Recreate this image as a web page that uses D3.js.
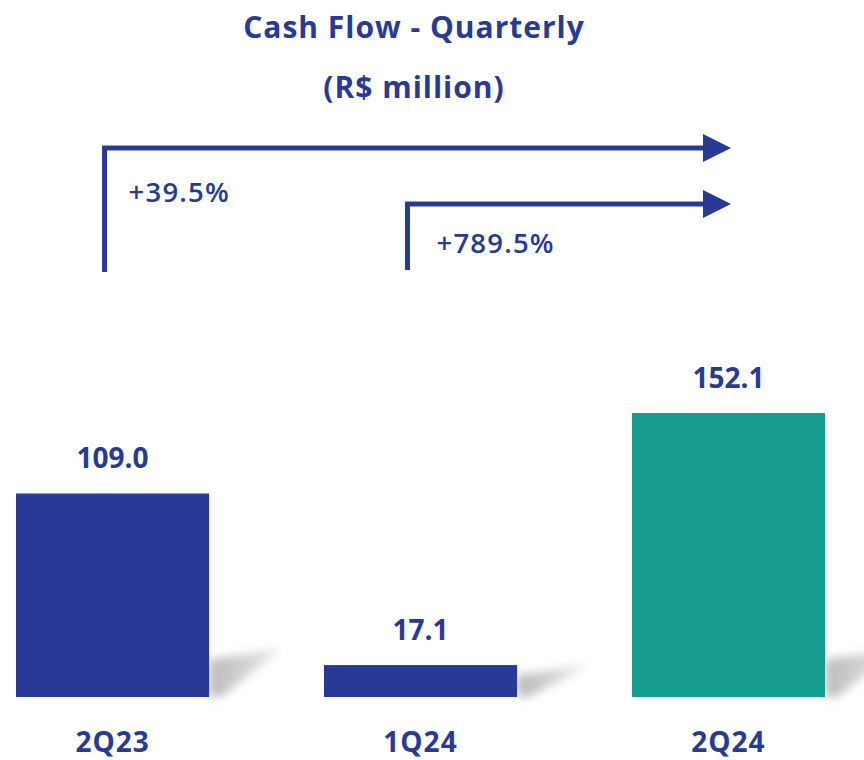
<!DOCTYPE html>
<html><head><meta charset="utf-8">
<script src="https://cdn.jsdelivr.net/npm/d3@7"></script>
<style>body{margin:0;background:#fff}svg{display:block}</style>
</head><body>
<script>
const categories = ["2Q23", "1Q24", "2Q24"];
const values = [109.0, 17.1, 152.1];
const valueLabels = ["109.0", "17.1", "152.1"];
const colors = ["#283A96", "#283A96", "#179E91"];
const growthLabels = ["+39.5%", "+789.5%"];
const growthFrom = ["2Q23", "1Q24"];
const titleLines = ["Cash Flow - Quarterly", "(R$ million)"];

const W = 864, H = 760;
const blue = "#283A96";
const font = "'Open Sans', 'Noto Sans', sans-serif";
const svg = d3.select("body").append("svg").attr("width", W).attr("height", H);

const x = d3.scaleBand().domain(categories).range([16, 825]).paddingInner(0.373).paddingOuter(0);
const y = d3.scaleLinear().domain([0, 152.1]).range([697, 413]);

const defs = svg.append("defs");
const f = defs.append("filter").attr("id", "blur").attr("x", "-50%").attr("y", "-50%").attr("width", "200%").attr("height", "200%");
f.append("feGaussianBlur").attr("stdDeviation", 5);
const g = defs.append("linearGradient").attr("id", "sh").attr("x1", 0).attr("x2", 1).attr("y1", 0).attr("y2", 0);
g.append("stop").attr("offset", "0%").attr("stop-color", "#b0b0b0");
g.append("stop").attr("offset", "100%").attr("stop-color", "#e4e4e4");

// shadows
const data = categories.map((c, i) => ({c, v: values[i], lab: valueLabels[i], col: colors[i]}));
svg.append("g").selectAll("path").data(data).join("path")
  .attr("d", d => {
    const x0 = x(d.c) + x.bandwidth();
    const top = Math.max(y(d.v), 697 - 48);
    return `M${x0},697 L${x0},${top + 10} L${x0 + 72},${top} L${x0 + 12},697 Z`;
  })
  .attr("fill", "url(#sh)").attr("filter", "url(#blur)").attr("opacity", 0.85);

// bars
svg.append("g").selectAll("rect").data(data).join("rect")
  .attr("x", d => x(d.c)).attr("width", x.bandwidth())
  .attr("y", d => y(d.v)).attr("height", d => y(0) - y(d.v))
  .attr("fill", d => d.col);

// value labels
svg.append("g").selectAll("text").data(data).join("text")
  .attr("x", d => x(d.c) + x.bandwidth() / 2).attr("y", d => y(d.v) - 25)
  .attr("text-anchor", "middle").attr("font-family", font).attr("font-weight", 700)
  .attr("font-size", 28).attr("fill", blue).text(d => d.lab);

// category labels
svg.append("g").selectAll("text").data(categories).join("text")
  .attr("x", d => x(d) + x.bandwidth() / 2).attr("y", 752)
  .attr("text-anchor", "middle").attr("font-family", font).attr("font-weight", 700)
  .attr("font-size", 28).attr("letter-spacing", 1).attr("fill", blue).text(d => d);

// title
svg.append("g").selectAll("text").data(titleLines).join("text")
  .attr("x", 414).attr("y", (d, i) => 38 + i * 60)
  .attr("text-anchor", "middle").attr("font-family", font).attr("font-weight", 700)
  .attr("font-size", 30).attr("letter-spacing", 1).attr("fill", blue).text(d => d);

// growth arrows
const arrowY = [148, 204];
const arrowOffset = [-8, -13];
const arrowBottom = [272, 270];
const labelDx = [24, 29];
const labelY = [202, 253];
const tipX = 731;
growthFrom.forEach((c, i) => {
  const xs = x(c) + x.bandwidth() / 2 + arrowOffset[i];
  svg.append("path")
    .attr("d", `M${xs},${arrowBottom[i]} L${xs},${arrowY[i]} L${tipX - 26},${arrowY[i]}`)
    .attr("fill", "none").attr("stroke", blue).attr("stroke-width", 5);
  svg.append("path")
    .attr("d", `M${tipX - 28},${arrowY[i] - 14} L${tipX},${arrowY[i]} L${tipX - 28},${arrowY[i] + 14} Z`)
    .attr("fill", blue);
  svg.append("text").attr("x", xs + labelDx[i]).attr("y", labelY[i])
    .attr("font-family", font).attr("font-weight", 600).attr("font-size", 27.5)
    .attr("letter-spacing", 1.2).attr("fill", blue).text(growthLabels[i]);
});
</script>
</body></html>
